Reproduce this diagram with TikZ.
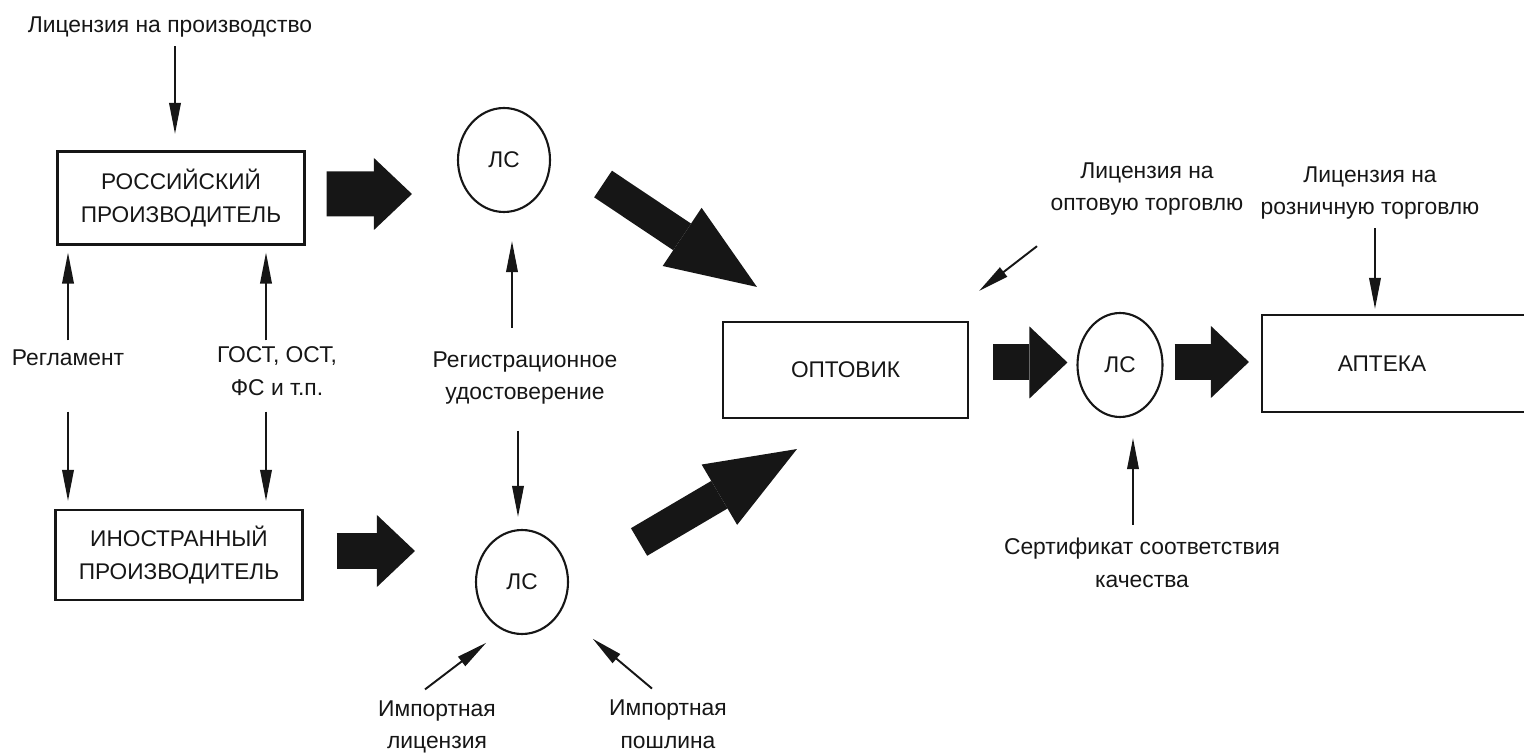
\documentclass[tikz,border=0pt]{standalone}
\usepackage{fontspec}
\setmainfont{Liberation Sans}
\usetikzlibrary{arrows.meta,positioning,calc,shapes.geometric}
\definecolor{ink}{HTML}{161616}

\begin{document}
\begin{tikzpicture}[
  box/.style={draw=ink, line width=1.2pt, minimum width=4.94cm, minimum height=1.86cm, align=center, text=ink, font=\fontsize{12.9}{18.5}\selectfont},
  ls/.style={draw=ink, ellipse, line width=1.2pt, minimum width=1.84cm, minimum height=2.08cm, inner sep=0pt, text=ink, font=\fontsize{12.9}{15}\selectfont},
  lbl/.style={align=center, text=ink, font=\fontsize{13}{18.5}\selectfont},
  arr/.style={-{Triangle[length=6.2mm,width=2.3mm]}, ink, line width=1.1pt},
  fat/.style={-{Triangle[length=7.6mm,width=14.4mm,line width=0pt]}, ink, line width=7.2mm},
  diag/.style={-{Triangle[length=18mm,width=14mm,line width=0pt]}, ink, line width=6.4mm}
]
\useasboundingbox (0,0) rectangle (30.48,-15.08);

\node[lbl] (licprod) at (3.4,-0.54) {Лицензия на производство};
\node[box] (ru) at (3.62,-3.96) {РОССИЙСКИЙ\\ПРОИЗВОДИТЕЛЬ};
\node[lbl] (reg) at (1.36,-7.16) {Регламент};
\node[lbl] (gost) at (5.54,-7.42) {ГОСТ, ОСТ,\\ФС и т.п.};
\node[box, minimum height=1.8cm] (fo) at (3.58,-11.1) {ИНОСТРАННЫЙ\\ПРОИЗВОДИТЕЛЬ};

\node[ls] (lsA) at (10.08,-3.2) {ЛС};
\node[lbl] (regcert) at (10.5,-7.56) {Регистрационное\\удостоверение};
\node[ls] (lsB) at (10.44,-11.64) {ЛС};
\node[lbl] (implic) at (8.74,-14.54) {Импортная\\лицензия};
\node[lbl] (impduty) at (13.36,-14.48) {Импортная\\пошлина};

\node[box, minimum width=4.9cm, minimum height=1.92cm] (opt) at (16.91,-7.4) {ОПТОВИК};
\node[ls, minimum width=1.7cm] (lsC) at (22.4,-7.3) {ЛС};
\node[box, minimum width=5.7cm, minimum height=1.94cm, label={[xshift=-4.5mm, text=ink, font=\fontsize{12.9}{15}\selectfont]center:АПТЕКА}] (apt) at (28.09,-7.27) {};
\node[lbl] (licwhole) at (22.94,-3.78) {Лицензия на\\оптовую торговлю};
\node[lbl] (licretail) at (27.4,-3.86) {Лицензия на\\розничную торговлю};
\node[lbl] (cert) at (22.84,-11.26) {Сертификат соответствия\\качества};

\draw[arr, shorten <=0.6mm, shorten >=3.3mm] ([xshift=1mm]licprod.south) -- ([xshift=1mm]licprod.south |- ru.north);
\draw[arr, shorten >=1.4mm] (reg.north |- gost.north) -- (reg.north |- ru.south);
\draw[arr, shorten <=2mm, shorten >=1.6mm] (reg.south |- gost.south) -- (reg.south |- fo.north);
\draw[arr, shorten >=1.4mm] ([xshift=-2.2mm]gost.north) -- ([xshift=-2.2mm]gost.north |- ru.south);
\draw[arr, shorten <=2mm, shorten >=1.6mm] ([xshift=-2.2mm]gost.south) -- ([xshift=-2.2mm]gost.south |- fo.north);
\draw[arr, shorten <=3.5mm, shorten >=5.6mm] ([xshift=-2.6mm]regcert.north) -- ([xshift=-2.6mm]regcert.north |- lsA.south);
\draw[arr, shorten <=4mm, shorten >=2.4mm] ([xshift=-1.4mm]regcert.south) -- ([xshift=-1.4mm]regcert.south |- lsB.north);
\draw[arr] ([shift={(-0.24,0.1)}]implic.north) -- ([shift={(-0.01,-0.51)}]lsB.225);
\draw[arr] ([shift={(-0.32,0.1)}]impduty.north) -- ([shift={(0.71,-0.43)}]lsB.315);
\draw[arr] ([shift={(-2.2,-0.49)}]licwhole.south) -- ([shift={(0.2,0.6)}]opt.north east);
\draw[arr, shorten <=0.5mm, shorten >=1mm] ([xshift=1mm]licretail.south) -- ([xshift=1mm]licretail.south |- apt.north);
\draw[arr, shorten <=1.5mm, shorten >=4mm] ([xshift=-1.8mm]cert.north) -- ([xshift=-1.8mm]cert.north |- lsC.south);

\draw[fat, line width=9mm] ([shift={(0.42,0.08)}]ru.east) -- ([shift={(-0.9,-0.68)}]lsA.west);
\draw[fat] ([shift={(0.66,0.08)}]fo.east) -- ([shift={(-1.2,0.62)}]lsB.west);
\draw[diag] ([shift={(1.04,-0.48)}]lsA.east) -- ([shift={(0.7,0.68)}]opt.north west);
\draw[diag] ([shift={(1.4,0.8)}]lsB.east) -- ([shift={(1.5,-0.6)}]opt.south west);
\draw[fat] ([shift={(0.48,0.15)}]opt.east) -- ([shift={(-0.18,0.05)}]lsC.west);
\draw[fat] ([shift={(0.22,0.06)}]lsC.east) -- ([shift={(-0.24,0.03)}]apt.west);
\end{tikzpicture}
\end{document}
